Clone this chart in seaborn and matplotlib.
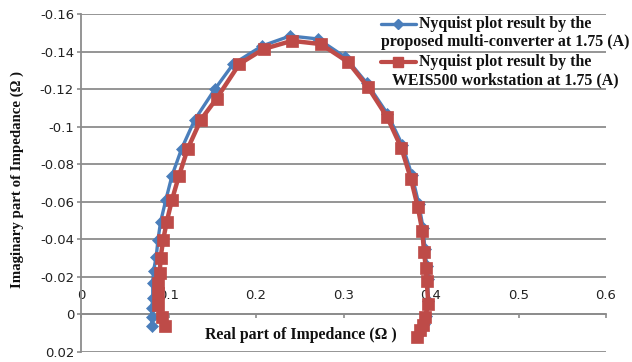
import matplotlib
matplotlib.use("Agg")
import matplotlib.pyplot as plt
from matplotlib.lines import Line2D
import seaborn as sns
import pandas as pd

# Nyquist data: real and imaginary parts of impedance (ohm)
conv_re = [0.081, 0.081, 0.081, 0.082, 0.082, 0.083, 0.086, 0.088, 0.091, 0.097,
           0.104, 0.115, 0.130, 0.153, 0.174, 0.207, 0.239, 0.271, 0.302, 0.327,
           0.350, 0.367, 0.378, 0.386, 0.391, 0.393, 0.395, 0.396, 0.397, 0.394,
           0.392, 0.388, 0.385]
conv_im = [0.0064, 0.0016, -0.0032, -0.009, -0.017, -0.0234, -0.0308, -0.0399, -0.0494, -0.0611,
           -0.0739, -0.0883, -0.1037, -0.120, -0.1334, -0.143, -0.1483, -0.1467, -0.137, -0.123,
           -0.107, -0.0905, -0.0745, -0.059, -0.046, -0.035, -0.026, -0.019, -0.007, 0.001,
           0.005, 0.008, 0.011]

weis_re = [0.096, 0.0926, 0.088, 0.088, 0.088, 0.090, 0.091, 0.094, 0.098, 0.104,
           0.112, 0.122, 0.137, 0.155, 0.181, 0.209, 0.241, 0.274, 0.305, 0.328,
           0.350, 0.366, 0.377, 0.385, 0.390, 0.392, 0.394, 0.395, 0.397, 0.393,
           0.391, 0.387, 0.384]
weis_im = [0.0064, 0.0016, -0.0048, -0.0112, -0.017, -0.0223, -0.0303, -0.0399, -0.0494, -0.0611,
           -0.0739, -0.0883, -0.1037, -0.115, -0.1334, -0.1414, -0.1457, -0.144, -0.1345, -0.121,
           -0.105, -0.0888, -0.0723, -0.057, -0.0447, -0.0335, -0.025, -0.018, -0.0058, 0.0016,
           0.0058, 0.0085, 0.0122]

series_labels = [
    ("Nyquist plot result by the", "proposed multi-converter at 1.75 (A)"),
    ("Nyquist plot result by the", "WEIS500 workstation at 1.75 (A)"),
]

x_ticks = [0, 0.1, 0.2, 0.3, 0.4, 0.5, 0.6]
x_tick_labels = ["0", "0.1", "0.2", "0.3", "0.4", "0.5", "0.6"]
y_ticks = [-0.16, -0.14, -0.12, -0.10, -0.08, -0.06, -0.04, -0.02, 0.0, 0.02]
y_tick_labels = ["-0.16", "-0.14", "-0.12", "-0.1", "-0.08", "-0.06", "-0.04", "-0.02", "0", "0.02"]

x_title = "Real part of Impedance (\u03a9 )"
y_title = "Imaginary part of Impedance (\u03a9 )"

BLUE = "#4a7ebb"
RED = "#be4b48"
GRID = "#8c8c8c"

sns.set_theme(style="white")
plt.rcParams["font.family"] = ["DejaVu Sans"]

fig = plt.figure(figsize=(6.32, 3.62), dpi=100)
ax = fig.add_axes([81 / 632, 1 - 352 / 362, 525 / 632, 338 / 362])

df_conv = pd.DataFrame({"re": conv_re, "im": conv_im})
df_weis = pd.DataFrame({"re": weis_re, "im": weis_im})

sns.lineplot(data=df_conv, x="re", y="im", sort=False, estimator=None, ax=ax,
             color=BLUE, linewidth=2.4, marker="D", markersize=6,
             markeredgecolor=BLUE, markerfacecolor=BLUE, markeredgewidth=0.5, zorder=3)
sns.lineplot(data=df_weis, x="re", y="im", sort=False, estimator=None, ax=ax,
             color=RED, linewidth=3.2, marker="s", markersize=8.5,
             markeredgecolor=RED, markerfacecolor=RED, markeredgewidth=0.5, zorder=4)

ax.set_xlim(0, 0.6)
ax.set_ylim(0.02, -0.16)

ax.set_xticks(x_ticks, labels=x_tick_labels)
ax.set_yticks(y_ticks, labels=y_tick_labels)

ax.yaxis.grid(True, color=GRID, linewidth=1.3)
ax.xaxis.grid(False)
ax.set_axisbelow(True)

for side in ("top", "right"):
    ax.spines[side].set_visible(False)
ax.spines["bottom"].set_position(("data", 0))
ax.spines["bottom"].set_color(GRID)
ax.spines["bottom"].set_linewidth(1.3)
ax.spines["left"].set_color(GRID)
ax.spines["left"].set_linewidth(1.3)
ax.spines["left"].set_bounds(0.02, -0.16)

ax.tick_params(axis="y", which="major", direction="out", length=3, width=1.2,
               color=GRID, labelsize=9.5, labelcolor="#222222", pad=2, left=True)
ax.tick_params(axis="x", which="major", direction="out", length=3, width=1.2,
               color=GRID, labelsize=9.5, labelcolor="#222222", pad=-21, bottom=True)

serif_bold = dict(family="Liberation Serif", weight="bold", color="#111111")

ax.set_xlabel("")
ax.set_ylabel("")
ax.text((301 - 81) / 525, (352 - 335) / 338, x_title, transform=ax.transAxes,
        ha="center", va="center", size=11.4, **serif_bold)
fig.text(17 / 632, 1 - 180 / 362, y_title, rotation=90, ha="center", va="center",
         size=10.7, **serif_bold)

# legend: line key beside the first text row, text rows centred under each other
legend_rows = [(24, 42, BLUE, "D", 5, 2.4), (62, 80, RED, "s", 6.5, 3.0)]
for (y1, y2, col, mk, ms, lw), (l1, l2) in zip(legend_rows, series_labels):
    fig.add_artist(Line2D([381 / 632, 416 / 632], [1 - y1 / 362, 1 - y1 / 362],
                          transform=fig.transFigure, color=col, linewidth=lw))
    fig.add_artist(Line2D([398 / 632], [1 - y1 / 362], transform=fig.transFigure,
                          color=col, marker=mk, markersize=ms, linestyle="none"))
    fig.text(505 / 632, 1 - y1 / 362, l1, ha="center", va="center", size=11.4, **serif_bold)
    fig.text(505 / 632, 1 - y2 / 362, l2, ha="center", va="center", size=11.4, **serif_bold)

fig.savefig("out.png", dpi=100, facecolor="white")
